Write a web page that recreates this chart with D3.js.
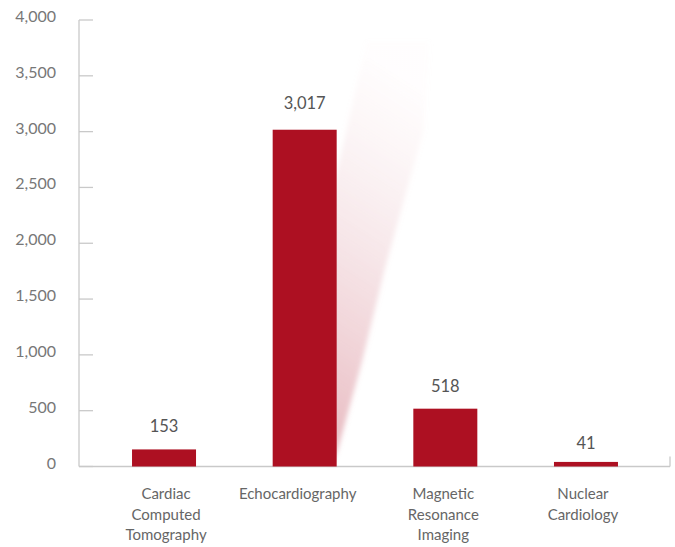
<!DOCTYPE html>
<html><head><meta charset="utf-8">
<script src="https://cdn.jsdelivr.net/npm/d3@7"></script>
<style>
html,body{margin:0;padding:0;background:#fff;}
svg{display:block;font-family:Lato,"Open Sans",sans-serif;}
</style></head>
<body>
<svg id="c" width="675" height="547"></svg>
<script>
const categories = [["Cardiac","Computed","Tomography"],["Echocardiography"],["Magnetic","Resonance","Imaging"],["Nuclear","Cardiology"]];
const values = [153, 3017, 518, 41];
const valueLabels = ["153","3,017","518","41"];
const yTicks = [0,500,1000,1500,2000,2500,3000,3500,4000];

const svg = d3.select("#c");
const axisX = 79, axisRight = 670;
const y = d3.scaleLinear().domain([0,4000]).range([466.5,20]);
const keys = categories.map((c,i)=>i);
const x = d3.scaleBand().domain(keys).range([93.7,656.3]).paddingInner(0.545).paddingOuter(0.2725);

// shadow wedge behind the Echocardiography bar
const defs = svg.append("defs");
const grad = defs.append("linearGradient").attr("id","sh").attr("x1","0").attr("y1","1").attr("x2","0.15").attr("y2","0");
grad.append("stop").attr("offset","0").attr("stop-color","#d68792").attr("stop-opacity",0.6);
grad.append("stop").attr("offset","0.45").attr("stop-color","#e0a3ac").attr("stop-opacity",0.35);
grad.append("stop").attr("offset","1").attr("stop-color","#f0ccd1").attr("stop-opacity",0.04);
defs.append("filter").attr("id","bl").attr("x","-30%").attr("y","-10%").attr("width","160%").attr("height","120%")
  .append("feGaussianBlur").attr("stdDeviation",2.5);
const ex = x(1) + x.bandwidth();
const wedge = [[ex+30, y(3800)],[ex+93, y(3800)],[ex+87, y(3017)],[ex+49, y(1800)],[ex+25, y(930)],[ex+1, y(150)],[ex-6, y(0)],[ex-6, y(2400)]];
svg.append("polygon")
  .attr("points", wedge.map(p=>p.join(",")).join(" "))
  .attr("fill","url(#sh)").attr("filter","url(#bl)");

// axes
const g = svg.append("g");
const grey = "#c9c9c9";
g.append("line").attr("x1",axisX).attr("x2",axisX).attr("y1",y(4000)).attr("y2",y(0)).attr("stroke",grey).attr("stroke-width",1.3);
g.selectAll(".tk").data(yTicks).enter().append("line")
  .attr("x1",axisX).attr("x2",axisX+14).attr("y1",d=>y(d)).attr("y2",d=>y(d)).attr("stroke",grey).attr("stroke-width",1.3);
g.append("line").attr("x1",axisX).attr("x2",axisRight).attr("y1",y(0)).attr("y2",y(0)).attr("stroke",grey).attr("stroke-width",1.3);
g.append("line").attr("x1",axisRight).attr("x2",axisRight).attr("y1",y(0)-10).attr("y2",y(0)).attr("stroke",grey).attr("stroke-width",1.3);
g.selectAll(".tl").data(yTicks).enter().append("text")
  .attr("x",56).attr("y",d=>y(d)+2).attr("text-anchor","end")
  .attr("fill","#777").attr("font-size",16).text(d=>d3.format(",")(d));

// bars
svg.selectAll(".bar").data(values).enter().append("rect")
  .attr("x",(d,i)=>x(i)).attr("width",x.bandwidth())
  .attr("y",d=>y(d)).attr("height",d=>y(0)-y(d)).attr("fill","#ad1022");

// value labels
const gaps = [17,21,17,13];
svg.selectAll(".vl").data(values).enter().append("text")
  .attr("x",(d,i)=>x(i)+x.bandwidth()/2).attr("y",(d,i)=>y(d)-gaps[i])
  .attr("text-anchor","middle").attr("fill","#555").attr("font-size",16.5)
  .text((d,i)=>valueLabels[i]);

// category labels
const shifts = [2,-7,-2,-3];
categories.forEach((lines,i)=>{
  const t = svg.append("text").attr("text-anchor","middle").attr("fill","#666").attr("font-size",15);
  lines.forEach((l,j)=>{
    t.append("tspan").attr("x",x(i)+x.bandwidth()/2+shifts[i]).attr("y",499+j*20.5).text(l);
  });
});
</script>
</body></html>
